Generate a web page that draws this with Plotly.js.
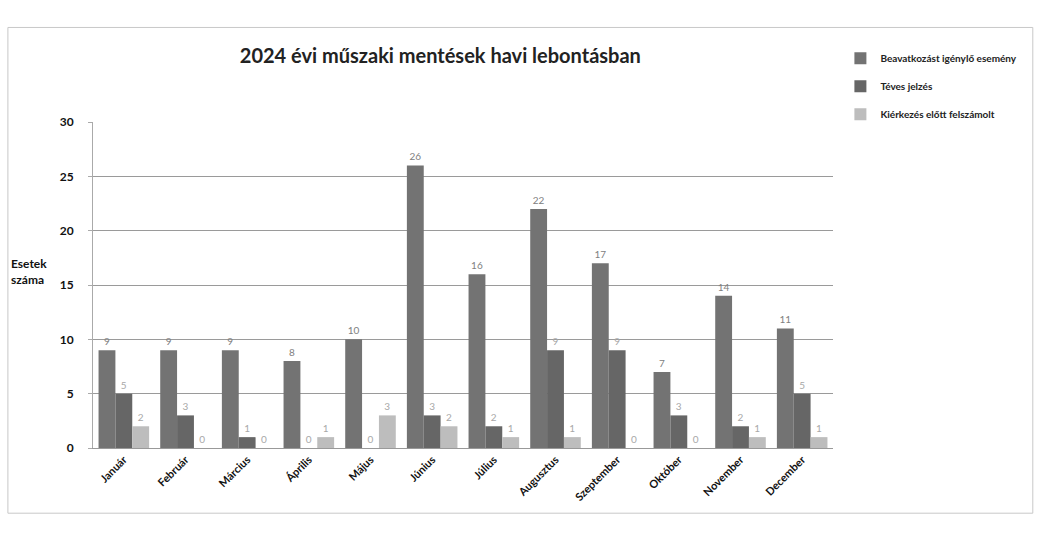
<!DOCTYPE html>
<html><head><meta charset="utf-8">
<script src="https://cdn.plot.ly/plotly-3.0.1.min.js"></script>
<style>html,body{margin:0;padding:0;background:#fff}#c{width:1041px;height:538px}</style>
</head><body><div id="c"></div>
<script>
const months = ["Január","Február","Március","Április","Május","Június","Július","Augusztus","Szeptember","Október","November","December"];
const seriesNames = ["Beavatkozást igénylő esemény","Téves jelzés","Kiérkezés előtt felszámolt"];
const beavatkozas = [9,9,9,8,10,26,16,22,17,7,14,11];
const teves = [5,3,1,0,0,3,2,9,9,3,2,5];
const felszamolt = [2,0,0,1,3,2,1,1,0,0,1,1];
const yTicks = [0,5,10,15,20,25,30];

const colors = ["#737373","#666666","#bdbdbd"];
const vals = [beavatkozas, teves, felszamolt];
const traces = vals.map((v,i)=>({
  type:"bar", name:seriesNames[i], x:months, y:v,
  legendgroup:"g"+i,
  marker:{color:colors[i]},
  text:v.map(String), textposition:"outside", cliponaxis:false,
  textfont:{family:"Lato, sans-serif", size:10, color: i===0?"#808080":"#a8a8a8"},
  hoverinfo:"none"
}));

const layout = {
  width:1041, height:538,
  margin:{l:93, r:208, t:122, b:90},
  paper_bgcolor:"#fff", plot_bgcolor:"#fff",
  barmode:"group", bargap:0.18, bargroupgap:0,
  title:{text:"<b>2024 évi műszaki mentések havi lebontásban</b>", x:0.423, xanchor:"center", y:0.895, yanchor:"middle",
    font:{family:"Lato, sans-serif", size:20, color:"#222"}},
  xaxis:{tickangle:-45, tickfont:{family:"Lato, sans-serif", size:11, color:"#111", weight:"bold"},
    showline:true, linecolor:"#999", linewidth:1, showgrid:false, ticks:""},
  yaxis:{range:[0,30], tickvals:yTicks, ticktext:yTicks.map(String),
    tickfont:{family:"Lato, sans-serif", size:12, color:"#111", weight:"bold"},
    showgrid:true, gridcolor:"#9a9a9a", gridwidth:1, showline:true, linecolor:"#aaa",
    ticks:"outside", ticklen:4, tickcolor:"#aaa", zeroline:false, ticklabelstandoff:12},
  legend:{x:1.01, y:1.24, xanchor:"left", yanchor:"top", font:{family:"Lato, sans-serif", size:10, color:"#222", weight:"bold"},
    itemwidth:30, tracegroupgap:9, bgcolor:"rgba(0,0,0,0)"},
  annotations:[{xref:"paper", yref:"paper", x:-0.06, y:0.54, xanchor:"right", yanchor:"middle", showarrow:false,
    align:"left", text:"<b>Esetek<br>száma</b>", font:{family:"Lato, sans-serif", size:12, color:"#111"}}],
  shapes:[{type:"rect", xref:"paper", yref:"paper", x0:-0.115, x1:1.27, y0:-0.2, y1:1.29,
    line:{color:"#c8c8c8", width:1}}],
  showlegend:true
};
Plotly.newPlot("c", traces, layout, {displayModeBar:false, staticPlot:true});
</script></body></html>
